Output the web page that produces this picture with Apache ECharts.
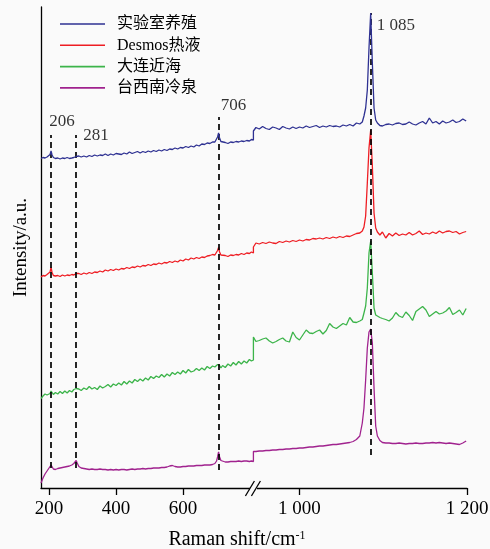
<!DOCTYPE html>
<html><head><meta charset="utf-8">
<script src="https://cdn.jsdelivr.net/npm/echarts@6/dist/echarts.min.js"></script>
<style>html,body{margin:0;padding:0;background:#fafafa}#c{width:490px;height:549px}</style>
</head><body><div id="c"></div>
<script>
// ---------- data ----------
const seriesNames = ['实验室养殖', 'Desmos热液', '大连近海', '台西南冷泉'];
const seriesColors = ['#2e3192', '#ee1d23', '#3cb44a', '#a0228e'];

// Raman shift (cm-1), left segment (before the axis break)
const shiftLeft = [176,182,188,194,199,203,206,209,213,219,226,233,240,247,254,261,268,274,278,281,284,289,296,304,312,320,328,336,344,352,360,368,376,384,392,400,408,416,424,432,440,448,456,464,472,480,488,496,504,512,520,528,536,544,552,560,568,576,584,592,600,608,616,624,632,640,648,656,664,672,680,688,695,700,703,706,709,713,718,726,734,742,750,758,766,774,782,790,798,804,810];
// Raman shift (cm-1), right segment (after the axis break)
const shiftRight = [945,948,952,956,960,964,968,972,976,980,984,988,992,996,1000,1004,1008,1012,1016,1020,1024,1028,1032,1036,1040,1044,1048,1052,1056,1060,1064,1068,1072,1075,1077,1079,1081,1083,1085,1087,1089,1091,1093,1096,1099,1103,1107,1111,1115,1119,1123,1127,1131,1135,1139,1143,1147,1151,1155,1159,1163,1167,1171,1175,1179,1183,1187,1191,1195,1199];

// intensities (a.u., offset stacked)
const labLeft = [329.5,330.5,330,331,331.5,333.5,337,333,330.5,329.5,
  330,329,330,329.5,330.5,329.5,330,330.5,331,331.5,
  330.5,332,331,332,331,332.5,331.5,333,332,333,
  332.5,334,332.5,334,333,334.5,334,333.5,335,334,
  336,334.5,335.5,336.5,335,336.5,335.5,337,336,337.5,
  336.5,338,337,338.5,337.5,339,338.5,340,339,340.5,
  340,341.5,340.5,342,341,343,342,344,343.5,345,
  344.5,346,346,348,351,355,350,346.5,345,345.5,
  344.5,346,345.5,346.5,346,347,346.5,347.5,347,348.5,
  348];
const labRight = [357,360.5,359,361.5,359.5,358.5,361,360,358.5,361.5,
  360,359,361,359.5,361,360,362,360.5,361.5,362.5,
  360.5,362,361,362.5,361.5,362,361,363,362,363.5,
  362,365,364,366,372,380,398,440,475,425,
  380,368,365,362.5,362,363.5,364,363,364.5,365,
  363.5,364,366,364,363,365,366.5,364,370,365,
  366.5,364,367,365,366,368,365.5,366.5,369,367];

const desmosLeft = [211,212.5,212,213.5,213,216,220.5,215.5,212.5,212,
  212.5,211.5,213,212,213,212.5,213.5,213,214,214.5,
  213.5,214.5,213.5,215,214,215.5,214.5,216,215.5,217,
  216,218,217,218.5,217.5,219,218,219.5,219,220.5,
  219.5,221,220.5,222,221,222.5,222,223.5,222.5,224,
  223.5,225,224,225.5,225,226.5,225.5,227,226,228,
  227,229,228,230,229,230.5,229.5,231,230.5,232,
  232.5,233.5,233,235,237.5,240.5,236,233,232,232.5,
  231.5,233,232.5,233.5,233,234.5,233.5,235,234.5,236,
  235];
const desmosRight = [241,245,244,245.5,244.5,246,245,244.5,246.5,245.5,
  247,246,247.5,246.5,248,247,248.5,248,249.5,249,
  250,249,250.5,249.5,251,250,251.5,250.5,252,251.5,
  253,254.5,255,257,261,272,305,340,358,322,
  275,260,256,253,256,250,254.5,252,255,252.5,
  254,253,255.5,253,254.5,257,253.5,255,254,256,
  254.5,257,255,256.5,257,255.5,256.5,254,255.5,256.5];

const dalianLeft = [89.5,92,94,93,95,94.5,97,95,93.5,95.5,
  94,96.5,94.5,97,95,97.5,96,98.5,97,99.5,
  98,99,97.5,100,98.5,101.5,99,100.5,98.5,102,
  100,101.5,103.5,101,104,102.5,105,103,106.5,104,
  107,105,108.5,106.5,109,107,110,108,111.5,109.5,
  112,110.5,113.5,111,114,112,115.5,113.5,116,114,
  117.5,115,118.5,116,117,119.5,117.5,120,118,121.5,
  119.5,122,121,123,123.5,124.5,122.5,120,122.5,120.5,
  124,122,125.5,123,126.5,124,127,125,128.5,127,
  128];
const dalianRight = [151,146.5,147.5,149,150,147,145,146.5,148.5,150,
  147,146,156,150.5,148,153,158,155,154.5,156.5,
  158,154,157.5,164.5,161,159.5,162,164.5,163,170.5,
  166,165.5,167,168.5,175,182,200,235,247,215,
  180,173,171,170.5,169.5,168.5,167,170,175.5,172,
  170.5,176,172.5,167.5,176.5,179,181.5,178,171.5,174,
  176.5,174,175,177,180.5,173.5,175.5,178,173,179.5];

const seepLeft = [5,10,14,17,19.5,21.5,23,21,19,18.5,
  19.5,20,20.5,21,21.5,22,23,24.5,26,27.5,
  25,21.5,20,19.5,19,18.5,19,18.5,18.5,19,
  18.5,18.5,18,18.5,18,18.5,18,18.5,18.5,18,
  18.5,19,18.5,19,19,19.5,19,19.5,19.5,20,
  20,20,20.5,20.5,21,22,22.5,21.5,21,21,
  21.5,21.5,22,22,22,22.5,22.5,22.5,23,23,
  23,23.5,24.5,27,31,36,31,27.5,26.5,26,
  26,26.5,26.5,26.5,27,26.5,27,27,26.5,27,
  26.5];
const seepRight = [36.5,36.5,37,37,37.5,37.5,38,38,38.5,38.5,
  39,39,39.5,39.5,40,40,40.5,41,41,41.5,
  42,42,42.5,43,43.5,43.5,44,44.5,45,45.5,
  46.5,48.5,52,65,80,108,140,156,159,145,
  100,62,52,47.5,45.5,45,45,44.5,44.5,45,
  44.5,44,44.5,44.5,45,44.5,44.5,45,45,45.5,
  45,45.5,45,44.5,45,44.5,44,43.5,45,47];

// x-axis tick labels (cm-1)
const xTicks = [200, 400, 600, 1000, 1200];

// annotated peaks
const peakShift = [206, 281, 706, 1085];
const peakText = ['206', '281', '706', '1 085'];
const peakLineTop = [353, 353, 371, 475];
const peakLineBottom = [20, 20, 18, 33];

// ---------- broken-axis scale ----------
const BREAK_FROM = 810, BREAK_TO = 945, RIGHT_SCALE = 2.5;
const toAxis = x => x <= BREAK_FROM ? x : BREAK_FROM + (x - BREAK_TO) * RIGHT_SCALE;
const fromAxis = u => u <= BREAK_FROM ? u : BREAK_TO + (u - BREAK_FROM) / RIGHT_SCALE;
const fmtTick = v => { const r = Math.round(fromAxis(v)); return r >= 1000 ? String(r).replace(/(\d)(\d{3})$/, '$1 $2') : String(r); };

const allShift = shiftLeft.concat(shiftRight);
const allY = [labLeft.concat(labRight), desmosLeft.concat(desmosRight), dalianLeft.concat(dalianRight), seepLeft.concat(seepRight)];

const SERIF = "'Liberation Serif', 'Times New Roman', 'Noto Sans CJK SC', serif";
const BG = '#fafafa';

const peakLabelStyle = [
  { position: 'top', offset: [11, 0] },
  { position: 'right', offset: [2, 1] },
  { position: 'top', offset: [15, 2] },
  { position: 'right', offset: [1, 13] }
];

const chart = echarts.init(document.getElementById('c'), null, { renderer: 'canvas' });

const series = seriesNames.map((name, k) => ({
  name, type: 'line', symbol: 'none', showSymbol: false, silent: true,
  data: allShift.map((x, i) => [toAxis(x), allY[k][i]]),
  lineStyle: { width: 1.3, color: seriesColors[k] },
  itemStyle: { color: seriesColors[k] },
  z: 2 + (3 - k)
}));

series.push({
  name: 'peaks', type: 'scatter', symbolSize: 0, silent: true, z: 10,
  data: peakShift.map((x, i) => ({
    value: [toAxis(x), peakLineTop[i]],
    label: Object.assign({ show: true, formatter: peakText[i], fontFamily: SERIF, fontSize: 17, color: '#000' }, peakLabelStyle[i])
  })),
  label: { show: true, fontFamily: SERIF, fontSize: 17, color: '#000', distance: 5 },
  markLine: {
    silent: true, symbol: ['none', 'none'], animation: false,
    label: { show: false },
    lineStyle: { type: [6, 4], color: '#000', width: 1.7, opacity: 1 },
    data: peakShift.map((x, i) => [
      { coord: [toAxis(x), peakLineBottom[i]] },
      { coord: [toAxis(x), peakLineTop[i]] }
    ])
  }
});

chart.setOption({
  backgroundColor: BG,
  animation: false,
  grid: { left: 41, right: 23, top: 7, bottom: 61, containLabel: false, outerBoundsMode: 'none' },
  legend: {
    data: seriesNames, orient: 'vertical', left: 55, top: 11,
    icon: 'rect', itemWidth: 45, itemHeight: 1.6, itemGap: 5.3,
    textStyle: { fontFamily: SERIF, fontSize: 16, color: '#000', lineHeight: 16, padding: [0, 0, 0, 7] },
    selectedMode: false
  },
  xAxis: {
    type: 'value', min: toAxis(176), max: toAxis(1200),
    axisLine: { lineStyle: { color: '#000', width: 1.3 } },
    axisTick: { show: true, length: 7, inside: false, customValues: xTicks.map(toAxis), lineStyle: { color: '#000', width: 1.3 } },
    axisLabel: { customValues: xTicks.map(toAxis), formatter: fmtTick, fontFamily: SERIF, fontSize: 19, color: '#000', margin: 12 },
    splitLine: { show: false },
    name: 'Raman shift/cm{sup|-1}', nameLocation: 'middle', nameGap: 42,
    nameTextStyle: {
      fontFamily: SERIF, fontSize: 20, color: '#000', padding: [0, 34, 0, 0],
      rich: { sup: { fontFamily: SERIF, fontSize: 12, color: '#000', verticalAlign: 'top', padding: [0, 0, 8, 0] } }
    }
  },
  yAxis: {
    type: 'value', min: 0, max: 481,
    axisLine: { show: true, lineStyle: { color: '#000', width: 1.3 } },
    axisTick: { show: false }, axisLabel: { show: false }, splitLine: { show: false },
    name: 'Intensity/a.u.', nameLocation: 'middle', nameGap: 10, nameRotate: 90,
    nameTextStyle: { fontFamily: SERIF, fontSize: 19, color: '#000' }
  },
  series
});

// axis break marks "//"
const bx = chart.convertToPixel({ xAxisIndex: 0 }, BREAK_FROM);
const by = chart.convertToPixel({ yAxisIndex: 0 }, 0);
chart.setOption({
  graphic: [
    { type: 'rect', z: 100, shape: { x: bx - 3.5, y: by - 2, width: 7, height: 4 }, style: { fill: BG } },
    { type: 'line', z: 101, shape: { x1: bx - 8, y1: by + 8, x2: bx + 1, y2: by - 7 }, style: { stroke: '#000', lineWidth: 1.3 } },
    { type: 'line', z: 101, shape: { x1: bx - 2, y1: by + 8, x2: bx + 7, y2: by - 7 }, style: { stroke: '#000', lineWidth: 1.3 } }
  ]
});
</script>
</body></html>
